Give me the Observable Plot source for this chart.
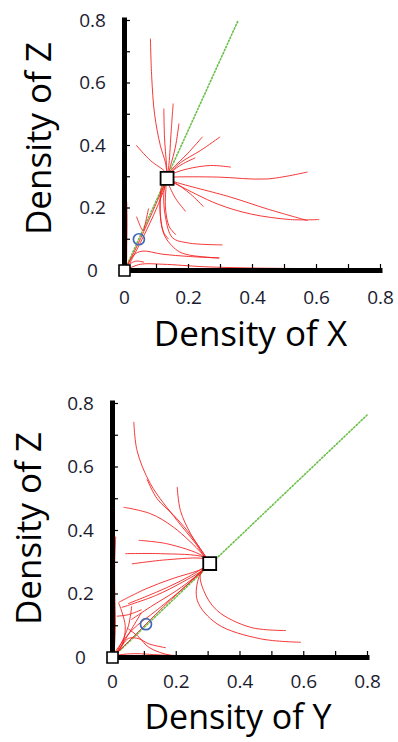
<!DOCTYPE html>
<html>
<head>
<meta charset="utf-8">
<script src="https://cdn.jsdelivr.net/npm/d3@7"></script>
<script src="https://cdn.jsdelivr.net/npm/@observablehq/plot@0.6"></script>
<style>
  body { margin: 0; background: #fff; }
  #chart svg { display: block; }
</style>
</head>
<body>
<div id="chart"></div>
<script>
// ---------- shared axis data ----------
const axisDomain = [0, 0.8];
const tickValues = [0, 0.2, 0.4, 0.6, 0.8];
const tickLabels = ["0", "0.2", "0.4", "0.6", "0.8"];
const minorTicks = [0.1, 0.2, 0.3, 0.4, 0.5, 0.6, 0.7, 0.8];

// ---------- top panel (X vs Z) ----------
const topXLabel = "Density of X";
const topYLabel = "Density of Z";
const topOrigin = [[0, 0]];
const topFixed = [[0.133, 0.295]];
const topCircle = [[0.045, 0.10]];
const topDiagonal = [[0, 0], [0.355, 0.8]];
const topTrajectories = [
  [[0.081,0.741],[0.085,0.62],[0.094,0.50],[0.112,0.40],[0.128,0.345],[0.133,0.305]],
  [[0.123,0.517],[0.125,0.427],[0.131,0.341],[0.133,0.305]],
  [[0.152,0.533],[0.146,0.448],[0.139,0.341],[0.134,0.305]],
  [[0.170,0.469],[0.159,0.395],[0.144,0.336],[0.135,0.305]],
  [[0.0375,0.40],[0.081,0.352],[0.128,0.315],[0.133,0.30]],
  [[0.243,0.427],[0.196,0.373],[0.149,0.325],[0.135,0.305]],
  [[0.298,0.427],[0.2375,0.384],[0.175,0.345],[0.14,0.31]],
  [[0.22,0.36],[0.18,0.34],[0.15,0.318],[0.136,0.302]],
  [[0.331,0.331],[0.269,0.336],[0.196,0.325],[0.149,0.309],[0.135,0.30]],
  [[0.571,0.315],[0.446,0.293],[0.29,0.299],[0.154,0.299],[0.135,0.297]],
  [[0.571,0.16],[0.446,0.197],[0.331,0.235],[0.159,0.283],[0.135,0.293]],
  [[0.607,0.163],[0.519,0.163],[0.394,0.181],[0.29,0.213],[0.17,0.272],[0.135,0.29]],
  [[0.246,0.205],[0.206,0.245],[0.154,0.283],[0.135,0.292]],
  [[0.305,0.082],[0.2,0.088],[0.15,0.105],[0.128,0.171],[0.123,0.25],[0.132,0.29]],
  [[0.295,0.04],[0.2,0.05],[0.165,0.064],[0.123,0.117],[0.1125,0.23],[0.13,0.29]],
  [[0.1375,0.101],[0.122,0.123],[0.111,0.197],[0.117,0.272],[0.132,0.293]],
  [[0.16,0.115],[0.14,0.14],[0.128,0.2],[0.13,0.27]],
  [[0.19,0.19],[0.16,0.23],[0.14,0.27]],
  [[0.005,0.01],[0.03,0.05],[0.055,0.062],[0.12,0.052],[0.2,0.045],[0.295,0.04]],
  [[0.58,0.006],[0.4,0.008],[0.25,0.012],[0.12,0.02],[0.05,0.02],[0.01,0.005]],
  [[0.007,0.219],[0.008,0.15],[0.007,0.08],[0.006,0.021],[0.003,0.003]],
  [[0.003,0.005],[0.04,0.08],[0.08,0.17],[0.11,0.24],[0.132,0.29]],
  [[0.01,0.01],[0.05,0.09],[0.09,0.175],[0.12,0.25],[0.133,0.292]],
  [[0.038,0.171],[0.05,0.14],[0.056,0.128]],
  [[0.075,0.197],[0.065,0.15],[0.06,0.128]],
  [[0.06,0.027],[0.035,0.03],[0.015,0.02]]
];

// ---------- bottom panel (Y vs Z) ----------
const botXLabel = "Density of Y";
const botYLabel = "Density of Z";
const botOrigin = [[0, 0]];
const botFixed = [[0.305, 0.296]];
const botCircle = [[0.105, 0.105]];
const botDiagonal = [[0, 0], [0.8, 0.765]];
const botTrajectories = [
  [[0.067,0.741],[0.077,0.652],[0.119,0.547],[0.203,0.431],[0.26,0.36],[0.29,0.315],[0.305,0.298]],
  [[0.109,0.56],[0.14,0.5],[0.19,0.45],[0.234,0.40],[0.286,0.327],[0.303,0.30]],
  [[0.203,0.536],[0.213,0.463],[0.245,0.39],[0.286,0.327],[0.303,0.30]],
  [[0.036,0.473],[0.119,0.453],[0.192,0.41],[0.281,0.327],[0.302,0.30]],
  [[0.083,0.369],[0.172,0.358],[0.281,0.321],[0.302,0.30]],
  [[0.041,0.327],[0.151,0.327],[0.286,0.316],[0.302,0.30]],
  [[0.062,0.295],[0.172,0.308],[0.286,0.311],[0.302,0.30]],
  [[0.543,0.085],[0.433,0.095],[0.328,0.148],[0.286,0.211],[0.276,0.263],[0.3,0.295]],
  [[0.59,0.048],[0.464,0.059],[0.328,0.106],[0.266,0.18],[0.272,0.255],[0.3,0.293]],
  [[0.02,0.174],[0.104,0.216],[0.187,0.248],[0.281,0.279],[0.302,0.295]],
  [[0.03,0.158],[0.135,0.195],[0.219,0.237],[0.281,0.274],[0.302,0.293]],
  [[0.05,0.17],[0.1,0.19],[0.17,0.22],[0.24,0.255],[0.3,0.292]],
  [[0.06,0.12],[0.12,0.16],[0.2,0.21],[0.26,0.255],[0.3,0.29]],
  [[0.005,0.005],[0.08,0.08],[0.16,0.16],[0.24,0.235],[0.3,0.292]],
  [[0.01,0.02],[0.06,0.085],[0.14,0.15],[0.23,0.225],[0.3,0.29]],
  [[0.01,0.38],[0.007,0.3],[0.007,0.211],[0.009,0.1],[0.005,0.01]],
  [[0.02,0.17],[0.04,0.1],[0.03,0.04],[0.005,0.005]],
  [[0.06,0.16],[0.05,0.1],[0.02,0.03],[0.005,0.005]],
  [[0.09,0.14],[0.06,0.09],[0.03,0.04],[0.005,0.005]],
  [[0.166,0.031],[0.114,0.043],[0.083,0.059],[0.05,0.06],[0.02,0.022],[0.005,0.005]],
  [[0.26,0.005],[0.15,0.008],[0.07,0.012],[0.02,0.008],[0.003,0.003]],
  [[0.05,0.09],[0.083,0.064],[0.114,0.032],[0.187,0.006],[0.3,0.004]],
  [[0.015,0.13],[0.05,0.135],[0.09,0.15]]
];

const FONT = "'Open Sans', sans-serif";

function panel(cfg) {
  const W = 398, H = 371;
  const m = cfg.margin;
  const fw = W - m.left - m.right, fh = H - m.top - m.bottom;
  const rows = cfg.traj.flatMap((pts, i) => pts.map(([x, y]) => ({x, y, id: i})));
  const px = d => d[0], py = d => d[1];
  const txt = {textAnchor: "middle", lineAnchor: "middle"};
  return Plot.plot({
    width: W, height: H,
    marginLeft: m.left, marginRight: m.right, marginTop: m.top, marginBottom: m.bottom,
    x: {domain: axisDomain, axis: null},
    y: {domain: axisDomain, axis: null},
    style: {fontFamily: FONT, background: "white", overflow: "visible"},
    marks: [
      Plot.line(cfg.diag, {x: px, y: py, stroke: "#6cc04a", strokeWidth: 1.6, strokeDasharray: "1.4,2"}),
      Plot.line(rows, {x: "x", y: "y", z: "id", stroke: "#f41e1e", strokeWidth: 1, strokeOpacity: 0.88, curve: "catmull-rom"}),
      Plot.tickX(minorTicks, {x: d => d, insetTop: fh - 6, stroke: "black", strokeWidth: 1.2}),
      Plot.tickY(minorTicks, {y: d => d, insetRight: fw - 6, stroke: "black", strokeWidth: 1.2}),
      Plot.ruleX([axisDomain[0]], {x: d => d, y1: axisDomain[0], y2: axisDomain[1], stroke: "black", strokeWidth: 5, strokeLinecap: "square"}),
      Plot.ruleY([axisDomain[0]], {y: d => d, x1: axisDomain[0], x2: axisDomain[1], stroke: "black", strokeWidth: 5, strokeLinecap: "square"}),
      Plot.dot(cfg.circle, {x: px, y: py, r: 5.5, stroke: "#4468b6", strokeWidth: 1.7, fill: "none"}),
      Plot.dot(cfg.origin, {x: px, y: py, r: 6.2, symbol: "square", fill: "white", stroke: "black", strokeWidth: 1.6}),
      Plot.dot(cfg.fixed, {x: px, y: py, r: 7.3, symbol: "square", fill: "white", stroke: "black", strokeWidth: 1.8}),
      Plot.text(tickValues, {...txt, x: d => d, frameAnchor: "bottom", dy: cfg.xTickDy, text: (d, i) => tickLabels[i], fontSize: 19, fill: "#1c1c30"}),
      Plot.text(tickValues, {...txt, y: d => d, frameAnchor: "left", dx: -32, text: (d, i) => tickLabels[i], fontSize: 19, fill: "#1c1c30"}),
      Plot.text([cfg.xLabel], {...txt, frameAnchor: "bottom", dx: -2, dy: cfg.xLabelDy, text: d => d, fontSize: cfg.xLabelSize, fill: "black"}),
      Plot.text([cfg.yLabel], {...txt, frameAnchor: "left", dx: cfg.yLabelDx, dy: cfg.yLabelDy, rotate: -90, text: d => d, fontSize: 35, fill: "black"})
    ]
  });
}

const chart = document.getElementById("chart");
chart.append(panel({
  margin: {top: 20, right: 18, bottom: 101, left: 124},
  traj: topTrajectories, origin: topOrigin, fixed: topFixed, circle: topCircle, diag: topDiagonal,
  xLabel: topXLabel, yLabel: topYLabel, xTickDy: 27, xLabelDy: 64, xLabelSize: 35, yLabelDx: -85, yLabelDy: -7
}));
chart.append(panel({
  margin: {top: 32, right: 31, bottom: 85, left: 112},
  traj: botTrajectories, origin: botOrigin, fixed: botFixed, circle: botCircle, diag: botDiagonal,
  xLabel: botXLabel, yLabel: botYLabel, xTickDy: 24.5, xLabelDy: 61, xLabelSize: 34, yLabelDx: -83, yLabelDy: -2
}));
</script>
</body>
</html>
